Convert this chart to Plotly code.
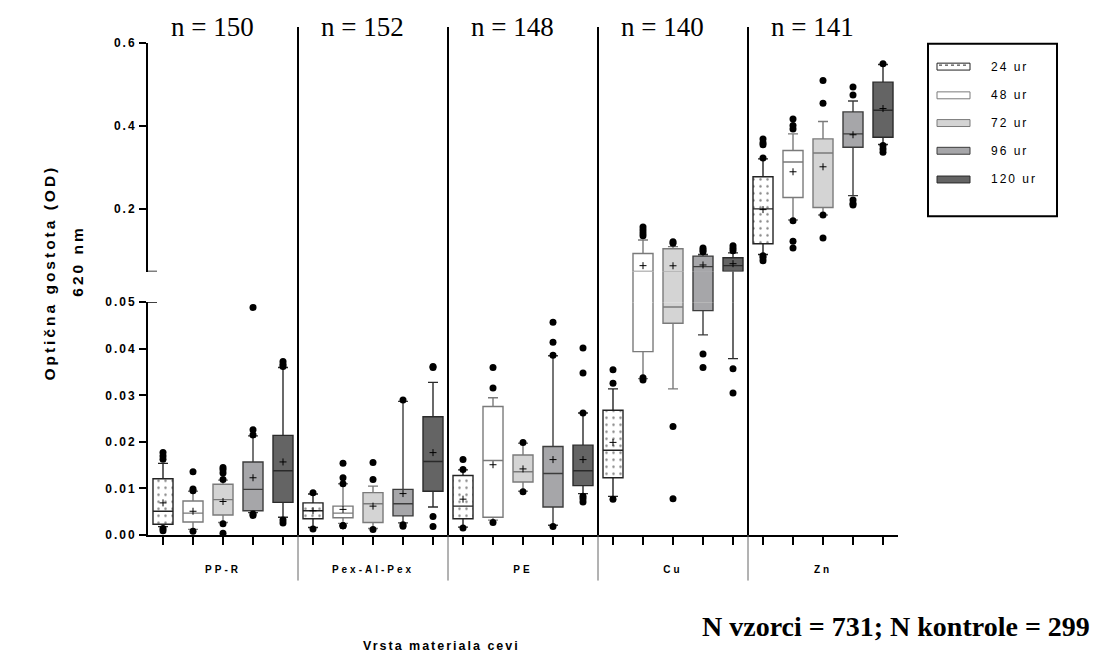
import plotly.graph_objects as go

# ---------------- data ----------------
materials = ["PP-R", "Pex-Al-Pex", "PE", "Cu", "Zn"]
n_per_material = [150, 152, 148, 140, 141]
series = ["24 ur", "48 ur", "72 ur", "96 ur", "120 ur"]
n_samples = 731
n_controls = 299

# rows: series (24, 48, 72, 96, 120 ur); columns: materials
q1 = [
    [0.0023, 0.0035, 0.0035, 0.0123, 0.117],
    [0.0028, 0.0037, 0.0038, 0.0394, 0.228],
    [0.0043, 0.0027, 0.0114, 0.0455, 0.204],
    [0.0052, 0.0041, 0.0060, 0.0482, 0.349],
    [0.0070, 0.0094, 0.0106, 0.0502, 0.373],
]
median = [
    [0.0051, 0.0052, 0.0062, 0.0182, 0.2007],
    [0.0047, 0.0047, 0.0160, 0.0505, 0.3135],
    [0.0076, 0.0067, 0.0136, 0.0490, 0.335],
    [0.0098, 0.0067, 0.0132, 0.0619, 0.381],
    [0.0138, 0.0158, 0.0138, 0.0643, 0.438],
]
q3 = [
    [0.0121, 0.0069, 0.0128, 0.0268, 0.278],
    [0.0073, 0.0062, 0.0276, 0.0936, 0.341],
    [0.0109, 0.0091, 0.0172, 0.1048, 0.369],
    [0.0157, 0.0098, 0.0190, 0.0873, 0.434],
    [0.0214, 0.0254, 0.0193, 0.0833, 0.5055],
]
lower_whisker = [
    [0.0018, 0.0016, 0.0017, 0.0083, 0.091],
    [0.0012, 0.0025, 0.0032, 0.0336, 0.174],
    [0.0027, 0.0014, 0.0094, 0.0314, 0.186],
    [0.0048, 0.0026, 0.0021, 0.0430, 0.2326],
    [0.0038, 0.0060, 0.0089, 0.0379, 0.3555],
]
upper_whisker = [
    [0.0154, 0.0088, 0.0140, 0.0314, 0.321],
    [0.0094, 0.0110, 0.0295, 0.126, 0.381],
    [0.0118, 0.0105, 0.0197, 0.110, 0.411],
    [0.0213, 0.0287, 0.0385, 0.091, 0.460],
    [0.0360, 0.0328, 0.0262, 0.095, 0.548],
]
mean = [
    [0.0069, 0.0052, 0.0077, 0.0199, 0.199],
    [0.0051, 0.0055, 0.0151, 0.0643, 0.290],
    [0.0072, 0.0062, 0.0142, 0.0640, 0.302],
    [0.0123, 0.0089, 0.0162, 0.0659, 0.379],
    [0.0157, 0.0177, 0.0162, 0.0690, 0.442],
]
outliers = [
    [[0.0177, 0.0170, 0.0163, 0.0014, 0.0009], [0.0091, 0.0013], [0.0162, 0.0141, 0.0015],
     [0.0355, 0.0326, 0.0077], [0.369, 0.360, 0.355, 0.323, 0.088, 0.083, 0.076]],
    [[0.0136, 0.0099, 0.0095, 0.0008], [0.0154, 0.0123, 0.0110, 0.0020, 0.0020, 0.0020],
     [0.0360, 0.0316, 0.0027], [0.157, 0.150, 0.143, 0.136, 0.0338, 0.0333],
     [0.417, 0.401, 0.393, 0.172, 0.123, 0.107]],
    [[0.0145, 0.0140, 0.0133, 0.0119, 0.0024, 0.0004], [0.0156, 0.0119, 0.0012], [0.0199, 0.0093],
     [0.122, 0.118, 0.0233, 0.0078], [0.5095, 0.455, 0.186, 0.131]],
    [[0.0489, 0.0226, 0.0215, 0.0045, 0.0042], [0.0290, 0.0022, 0.0019], [0.0457, 0.0414, 0.0386, 0.0018],
     [0.107, 0.102, 0.098, 0.0389, 0.0360], [0.4936, 0.4745, 0.222, 0.214, 0.210]],
    [[0.0373, 0.0367, 0.0362, 0.0032, 0.0026], [0.0362, 0.0360, 0.0040, 0.0018],
     [0.0402, 0.0348, 0.0262, 0.0083, 0.0078, 0.0071], [0.112, 0.106, 0.100, 0.0357, 0.0305],
     [0.550, 0.353, 0.345, 0.337]],
]
lower_ticks = [0.00, 0.01, 0.02, 0.03, 0.04, 0.05]
upper_ticks = [0.2, 0.4, 0.6]
BREAK = 0.05  # value where the y axis is broken

# ---------------- styles ----------------
fills = ["rgba(0,0,0,0)", "#ffffff", "#d4d4d4", "#a6a6a9", "#646464"]
swatch_fills = ["#ffffff", "#ffffff", "#d4d4d4", "#a6a6a9", "#646464"]
lines = ["#222222", "#7a7a7a", "#7a7a7a", "#3c3c3c", "#2a2a2a"]
SANS = "Liberation Sans, Arial, sans-serif"
SERIF = "Liberation Serif, Times New Roman, serif"


def spaced(text, px):
    return '<span style="letter-spacing:%dpx">%s</span>' % (px, text)


ns = len(series)
nm = len(materials)
BOX_W = 0.667

fig = go.Figure()
axes = ["y", "y2", "y3"]  # lower segment, break gap, upper segment
segment_test = {"y": lambda v: v < BREAK, "y3": lambda v: v >= BREAK}

for i in range(ns):
    xs = [g * ns + i for g in range(nm)]
    for ax in axes:
        if i == 0:
            fig.add_trace(go.Bar(
                x=xs, y=[b - a for a, b in zip(q1[i], q3[i])], base=q1[i], yaxis=ax,
                width=BOX_W, marker=dict(color="white", line=dict(width=0),
                                         pattern=dict(shape=".", fgcolor="#111111", bgcolor="white",
                                                      size=7, solidity=0.1)),
                hoverinfo="skip", showlegend=False))
        fig.add_trace(go.Box(
            x=xs, q1=q1[i], median=median[i], q3=q3[i],
            lowerfence=lower_whisker[i], upperfence=upper_whisker[i],
            yaxis=ax, width=BOX_W, whiskerwidth=0.5, boxpoints=False,
            fillcolor=fills[i], line=dict(color=lines[i], width=1.4),
            name=series[i], showlegend=False))
    for ax in ["y", "y3"]:
        keep = segment_test[ax]
        ox = [g * ns + i for g in range(nm) for v in outliers[i][g] if keep(v)]
        oy = [v for g in range(nm) for v in outliers[i][g] if keep(v)]
        fig.add_trace(go.Scatter(x=ox, y=oy, yaxis=ax, mode="markers",
                                 marker=dict(color="black", size=7), showlegend=False,
                                 hoverinfo="y"))
        mx = [g * ns + i for g in range(nm) if keep(mean[i][g])]
        my = [mean[i][g] for g in range(nm) if keep(mean[i][g])]
        fig.add_trace(go.Scatter(x=mx, y=my, yaxis=ax, mode="markers",
                                 marker=dict(symbol="cross-thin", size=5, color="black",
                                             line=dict(color="black", width=1)),
                                 showlegend=False, hoverinfo="y"))

# ---------------- geometry (reference pixels -> paper) ----------------
W, H = 1101, 660
OFF = 8  # page body margin
L, R, T, B = 148, 898, 22, 535
pw, ph = R - L, B - T


def py(y):
    return (B - y) / ph


def px(x):
    return (x - L) / pw


tickvals = [g * ns + i for g in range(nm) for i in range(ns)]
ticktext = [spaced(materials[g], 3) if i == ns // 2 else "" for g in range(nm) for i in range(ns)]

fig.update_layout(
    width=W - OFF, height=H - OFF,
    margin=dict(l=L - OFF, r=W - R, t=T - OFF, b=H - B, pad=0),
    plot_bgcolor="white", paper_bgcolor="white",
    showlegend=False, barmode="overlay", boxmode="overlay",
    xaxis=dict(domain=[0, 1], range=[-0.5, nm * ns - 0.5], anchor="y",
               showline=True, linewidth=2, linecolor="black", showgrid=False, zeroline=False,
               ticks="outside", ticklen=8, tickwidth=1.5, tickcolor="black",
               tickmode="array", tickvals=tickvals, ticktext=ticktext,
               tickfont=dict(family=SANS, size=10, color="black", weight="bold"),
               ticklabelstandoff=16),
    yaxis=dict(domain=[0, py(300)], range=[0, BREAK], anchor="x",
               showline=True, linewidth=2, linecolor="black", showgrid=False, zeroline=False,
               ticks="outside", ticklen=7, tickwidth=1.5, tickcolor="black",
               tickmode="array", tickvals=lower_ticks,
               ticktext=[spaced("%.2f" % v, 2) for v in lower_ticks],
               tickfont=dict(family=SANS, size=12, color="black", weight="bold")),
    yaxis2=dict(domain=[py(300), py(269)], range=[BREAK - 0.0001, BREAK + 0.0001], anchor="x",
                visible=False),
    yaxis3=dict(domain=[py(269), py(38)], range=[BREAK, 0.6], anchor="x",
                showline=True, linewidth=2, linecolor="black", showgrid=False, zeroline=False,
                ticks="outside", ticklen=7, tickwidth=1.5, tickcolor="black",
                tickmode="array", tickvals=upper_ticks,
                ticktext=[spaced("%.1f" % v, 2) for v in upper_ticks],
                tickfont=dict(family=SANS, size=12, color="black", weight="bold")),
)

shapes = []
# break caps crossing the axis
for yref in ["y", "y3"]:
    shapes.append(dict(type="line", xref="x domain", yref=yref, x0=0, x1=9 / pw, y0=BREAK, y1=BREAK,
                       line=dict(color="black", width=1.5)))
# group separators
for g in range(1, nm):
    xs = g * ns - 0.5
    shapes.append(dict(type="line", xref="x", yref="paper", x0=xs, x1=xs, y0=0, y1=1,
                       line=dict(color="black", width=2)))
    shapes.append(dict(type="line", xref="x", yref="paper", x0=xs, x1=xs, y0=py(581), y1=0,
                       line=dict(color="#666666", width=1)))
# legend frame and swatches
shapes.append(dict(type="rect", xref="paper", yref="paper", x0=px(928), x1=px(1057),
                   y0=py(213), y1=py(39), line=dict(color="black", width=2), fillcolor="white",
                   layer="below"))
legend_rows = [62, 91, 119, 147, 176]
annotations = []
for i, yrow in enumerate(legend_rows):
    shapes.append(dict(type="rect", xref="paper", yref="paper", x0=px(937), x1=px(970),
                       y0=py(yrow + 3.5), y1=py(yrow - 3.5), fillcolor=swatch_fills[i],
                       line=dict(color=lines[i], width=1)))
    if i == 0:
        shapes.append(dict(type="line", xref="paper", yref="paper", x0=px(939), x1=px(968),
                           y0=py(yrow - 1.5), y1=py(yrow - 1.5),
                           line=dict(color="#222222", width=1, dash="dot")))
    annotations.append(dict(text=spaced(series[i], 2), xref="paper", yref="paper",
                            x=px(989), y=py(yrow), xanchor="left", yanchor="middle",
                            showarrow=False, font=dict(family=SANS, size=12, color="black")))

# n labels
for g in range(nm):
    annotations.append(dict(text="n = %d" % n_per_material[g], xref="x", yref="paper",
                            x=g * ns + (ns - 1) / 2, xshift=-11, y=py(22), yanchor="middle",
                            showarrow=False, font=dict(family=SERIF, size=27, color="black")))

# axis titles and note
annotations += [
    dict(text=spaced("Optična gostota (OD)", 3), xref="paper", yref="paper", x=px(50), y=py(270),
         textangle=-90, showarrow=False, xanchor="center", yanchor="middle",
         font=dict(family=SANS, size=15.5, color="black", weight="bold")),
    dict(text=spaced("620 nm", 3), xref="paper", yref="paper", x=px(78), y=py(259),
         textangle=-90, showarrow=False, xanchor="center", yanchor="middle",
         font=dict(family=SANS, size=15.5, color="black", weight="bold")),
    dict(text=spaced("Vrsta materiala cevi", 2), xref="paper", yref="paper", x=px(441), y=py(647),
         showarrow=False, xanchor="center", yanchor="middle",
         font=dict(family=SANS, size=12.5, color="black", weight="bold")),
    dict(text="N vzorci = %d; N kontrole = %d" % (n_samples, n_controls), xref="paper",
         yref="paper", x=px(1092), y=py(627), showarrow=False, xanchor="right", yanchor="middle",
         font=dict(family=SERIF, size=28, color="black", weight="bold")),
]

fig.update_layout(shapes=shapes, annotations=annotations)
fig.write_html("out.html")
